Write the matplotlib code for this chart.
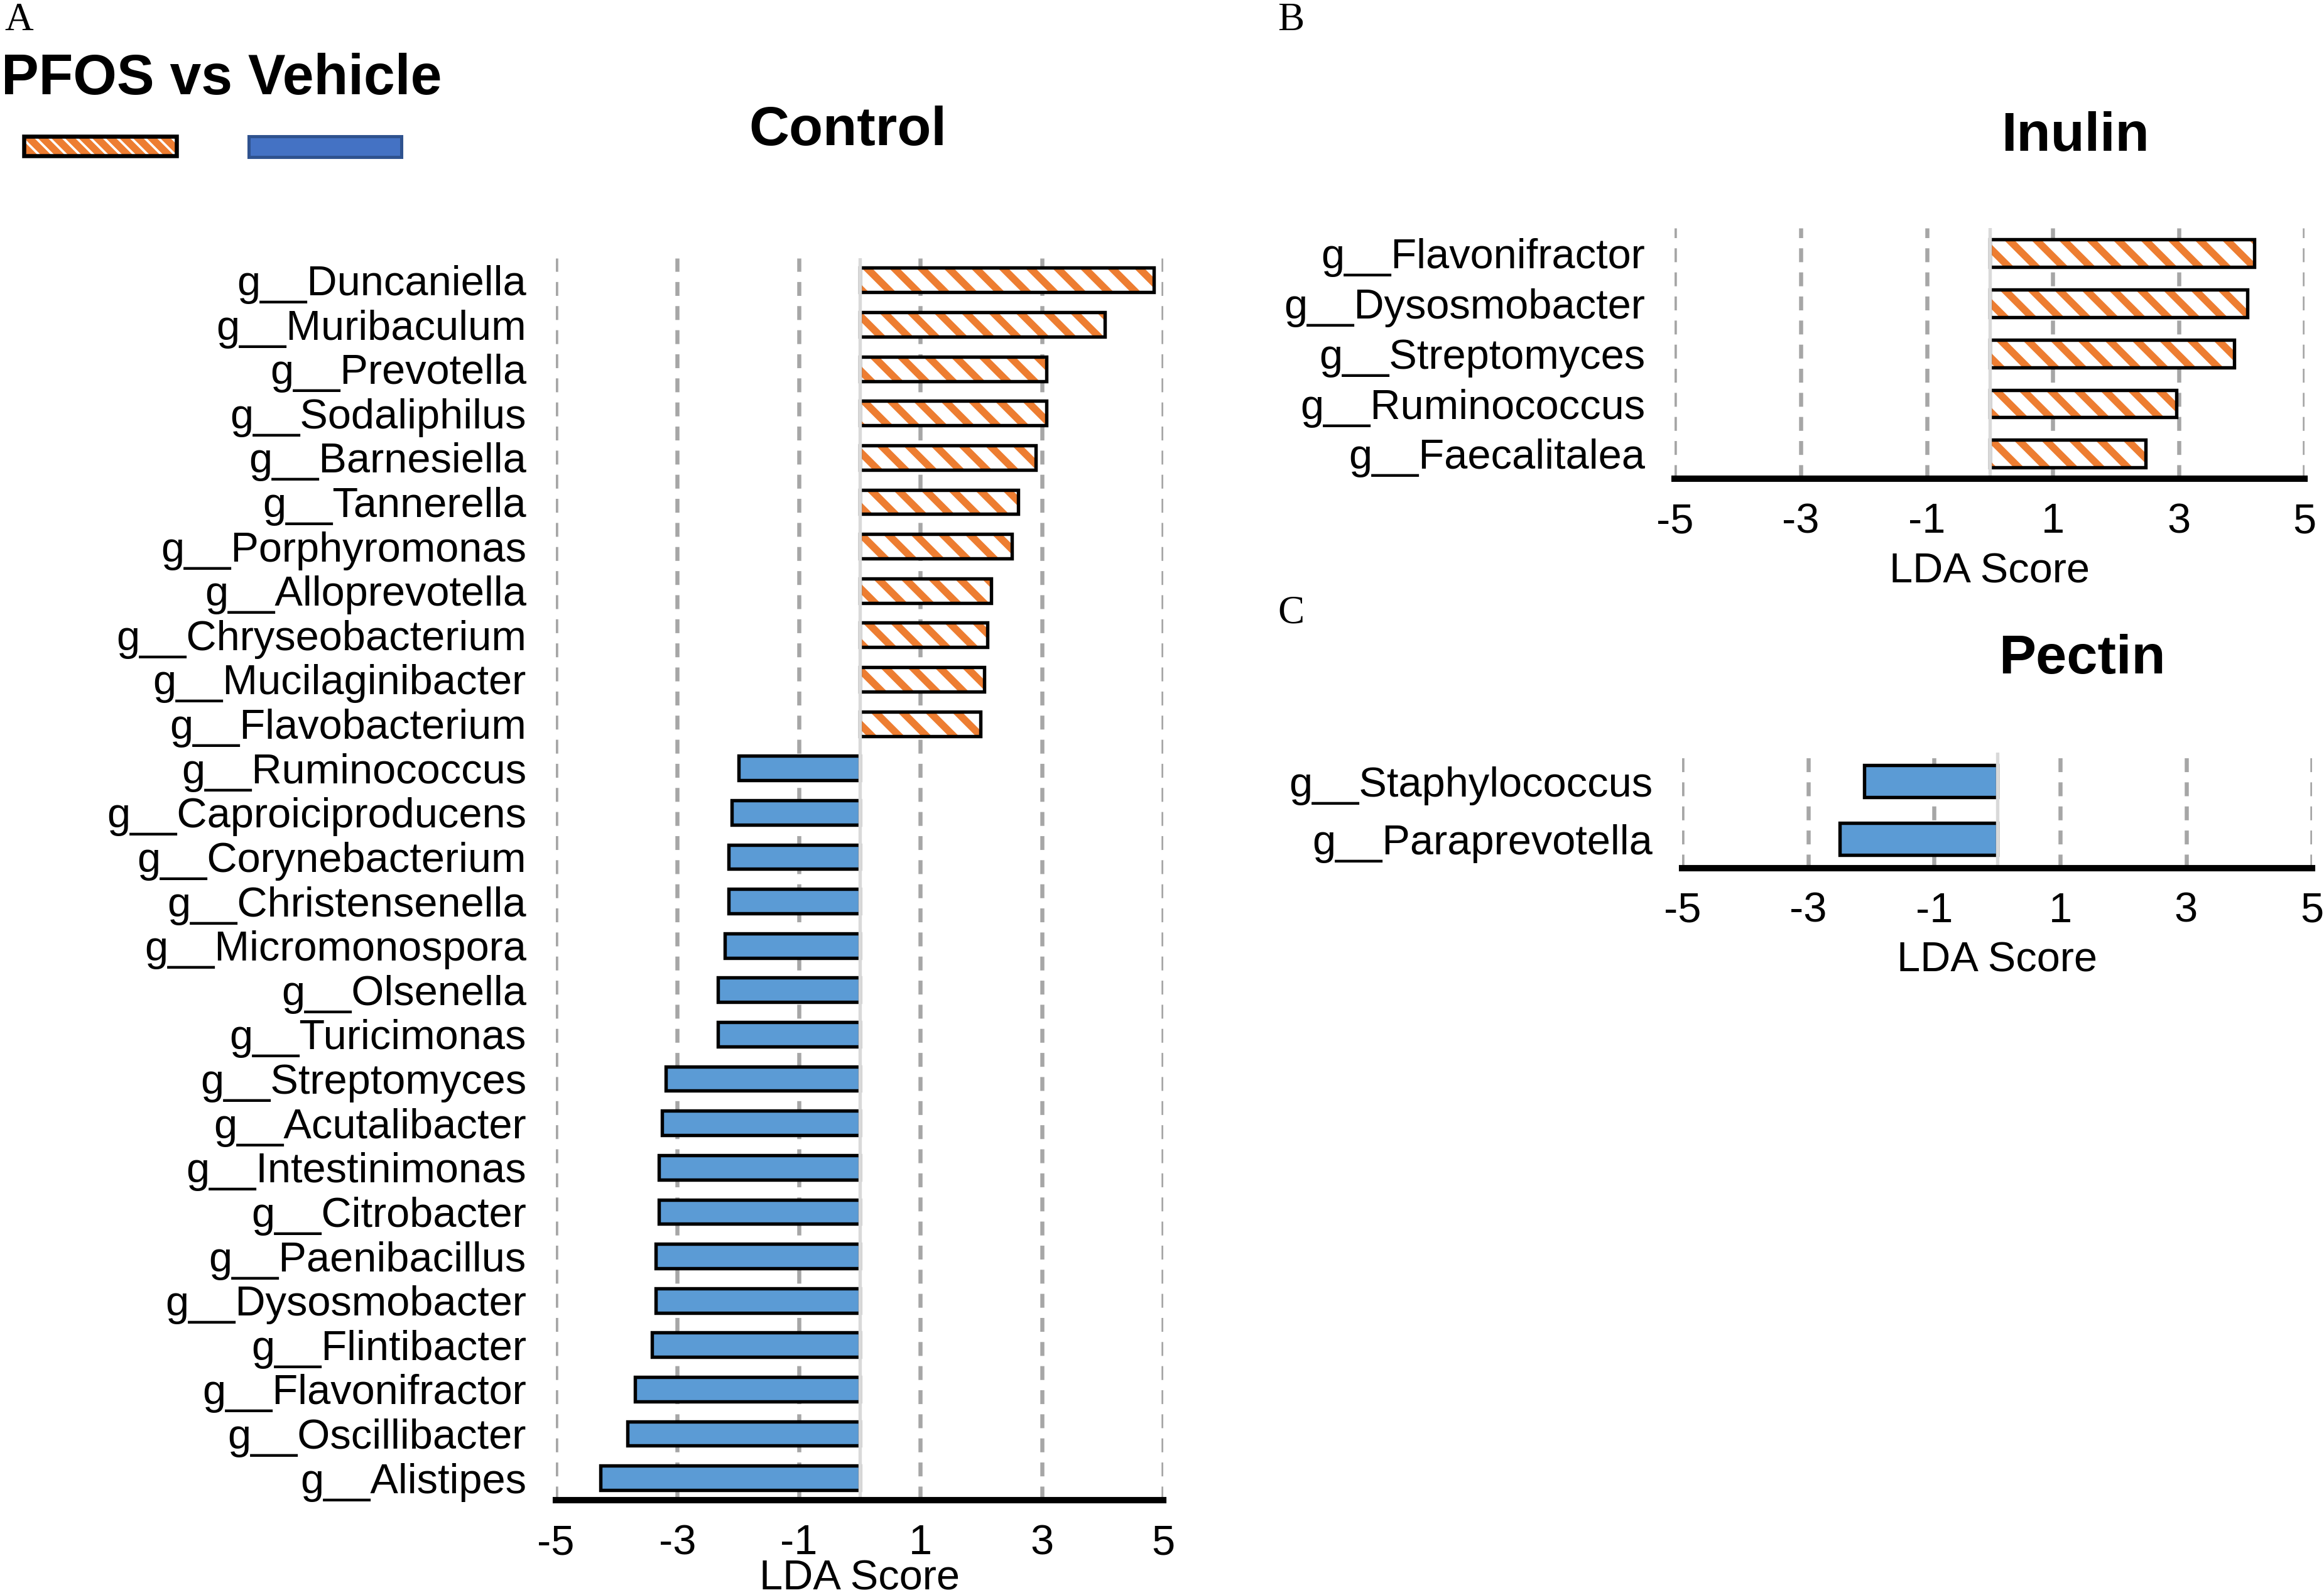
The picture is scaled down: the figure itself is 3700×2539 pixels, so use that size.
import matplotlib
matplotlib.use("Agg")
import matplotlib.pyplot as plt
from matplotlib.patches import Rectangle

plt.rcParams['font.family'] = ['Liberation Sans', 'DejaVu Sans']
plt.rcParams['hatch.linewidth'] = 3.2

# --- data (LDA scores) ---
control_genera = [
    "g__Duncaniella", "g__Muribaculum", "g__Prevotella", "g__Sodaliphilus",
    "g__Barnesiella", "g__Tannerella", "g__Porphyromonas", "g__Alloprevotella",
    "g__Chryseobacterium", "g__Mucilaginibacter", "g__Flavobacterium",
    "g__Ruminococcus", "g__Caproiciproducens", "g__Corynebacterium",
    "g__Christensenella", "g__Micromonospora", "g__Olsenella", "g__Turicimonas",
    "g__Streptomyces", "g__Acutalibacter", "g__Intestinimonas", "g__Citrobacter",
    "g__Paenibacillus", "g__Dysosmobacter", "g__Flintibacter", "g__Flavonifractor",
    "g__Oscillibacter", "g__Alistipes",
]
control_lda = [
    4.84, 4.04, 3.07, 3.07, 2.90, 2.61, 2.51, 2.16, 2.10, 2.05, 1.99,
    -1.99, -2.10, -2.16, -2.16, -2.22, -2.33, -2.33,
    -3.19, -3.25, -3.30, -3.30, -3.36, -3.36, -3.42, -3.70, -3.82, -4.27,
]

inulin_genera = ["g__Flavonifractor", "g__Dysosmobacter", "g__Streptomyces",
                 "g__Ruminococcus", "g__Faecalitalea"]
inulin_lda = [4.20, 4.09, 3.88, 2.96, 2.47]

pectin_genera = ["g__Staphylococcus", "g__Paraprevotella"]
pectin_lda = [-2.11, -2.50]

x_ticks = [-5, -3, -1, 1, 3, 5]

ORANGE = '#ED7D31'
BLUE = '#5B9BD5'
GRID = '#A6A6A6'
ZERO = '#D9D9D9'
LABEL_FS = 18.5


def lda_panel(ax, genera, scores, labelpad):
    ypos = list(range(len(genera)))
    pos_y = [y for y, s in zip(ypos, scores) if s > 0]
    pos_s = [s for s in scores if s > 0]
    neg_y = [y for y, s in zip(ypos, scores) if s <= 0]
    neg_s = [s for s in scores if s <= 0]
    h = 0.55
    # PFOS-enriched: white bar with orange hatch and black outline
    ax.barh(pos_y, pos_s, height=h, color='white', edgecolor=ORANGE,
            hatch='\\\\', linewidth=0, zorder=2)
    ax.barh(pos_y, pos_s, height=h, color='none', edgecolor='black',
            linewidth=1.5, zorder=3)
    # Vehicle-enriched: solid blue
    ax.barh(neg_y, neg_s, height=h, color=BLUE, edgecolor='black',
            linewidth=1.5, zorder=3)

    for xt in x_ticks:
        ax.axvline(xt, color=GRID, lw=1.8, ls=(0, (3.4, 2.5)), zorder=1)
    ax.axvline(0, color=ZERO, lw=1.5, zorder=4)

    ax.set_xlim(-5, 5)
    ax.set_ylim(len(genera) - 0.5, -0.5)
    ax.set_xticks(x_ticks)
    ax.set_xticklabels([str(t) for t in x_ticks])
    ax.set_yticks(ypos)
    ax.set_yticklabels(genera)
    ax.tick_params(axis='both', length=0, labelsize=LABEL_FS)
    ax.tick_params(axis='y', pad=13)
    ax.tick_params(axis='x', pad=10.6)
    for side in ['top', 'left', 'right']:
        ax.spines[side].set_visible(False)
    ax.spines['bottom'].set_linewidth(2.8)
    ax.spines['bottom'].set_zorder(5)
    ax.set_xlabel('LDA Score', fontsize=LABEL_FS, labelpad=labelpad)


fig = plt.figure(figsize=(3700 / 260, 2539 / 260), dpi=260)

ax_ctrl = fig.add_axes([0.23916, 0.05948, 0.26148, 0.77881])
ax_inu = fig.add_axes([0.72066, 0.69981, 0.27105, 0.15706])
ax_pec = fig.add_axes([0.72385, 0.45586, 0.27105, 0.07249])

lda_panel(ax_ctrl, control_genera, control_lda, -1.5)
lda_panel(ax_inu, inulin_genera, inulin_lda, 4.6)
lda_panel(ax_pec, pectin_genera, pectin_lda, 4.6)

# panel titles
fig.text(0.3648, 0.918, 'Control', fontsize=24.5, fontweight='bold', ha='center', va='center')
fig.text(0.8929, 0.9145, 'Inulin', fontsize=24.5, fontweight='bold', ha='center', va='center')
fig.text(0.8960, 0.5865, 'Pectin', fontsize=24.5, fontweight='bold', ha='center', va='center')

# panel letters
for x, y, s in [(0.002, 0.987, 'A'), (0.5497, 0.987, 'B'), (0.5497, 0.6155, 'C')]:
    fig.text(x, y, s, fontsize=17.5, family='Liberation Serif', ha='left', va='center')

# legend header and keys (no text labels in the original)
fig.text(0.0005, 0.950, 'PFOS vs Vehicle', fontsize=24.8, fontweight='bold', ha='left', va='center')
fig.patches.append(Rectangle((0.0102, 0.9024), 0.0657, 0.0121, transform=fig.transFigure,
                             facecolor='white', edgecolor=ORANGE, hatch='\\\\\\\\', linewidth=0))
fig.patches.append(Rectangle((0.0102, 0.9024), 0.0657, 0.0121, transform=fig.transFigure,
                             facecolor='none', edgecolor='black', linewidth=1.8))
fig.patches.append(Rectangle((0.1071, 0.9015), 0.0657, 0.013, transform=fig.transFigure,
                             facecolor='#4472C4', edgecolor='#2F528F', linewidth=1.4))

fig.savefig('out.png', dpi=260, facecolor='white')
